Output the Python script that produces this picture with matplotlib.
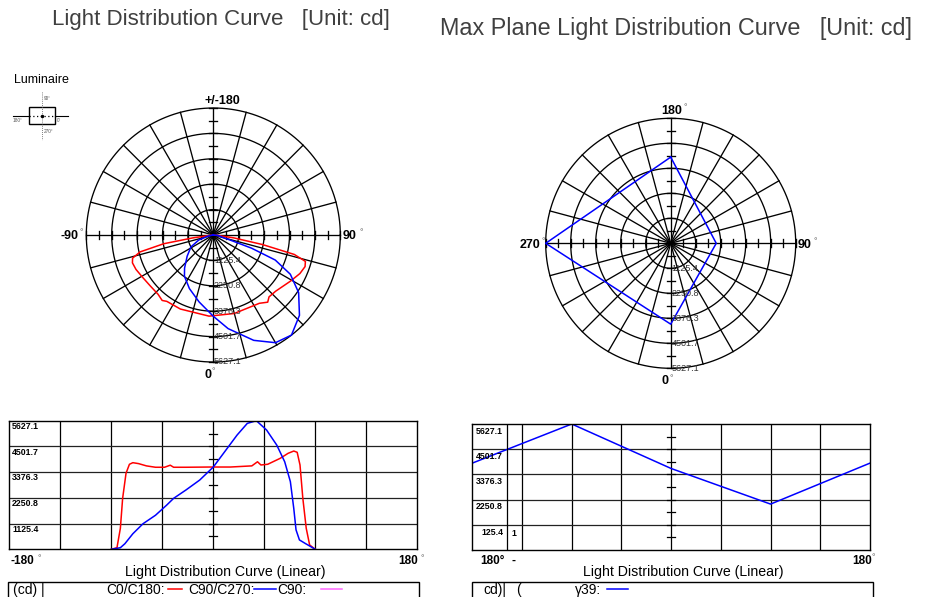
"""Luminaire photometric sheet: polar and linear light distribution curves."""

import matplotlib

matplotlib.use("Agg")
import matplotlib.pyplot as plt
import numpy as np
from matplotlib.patches import Rectangle

W, H = 930, 597
IMAX = 5627.1

# C0/C180 plane (red): gamma angle [deg] -> intensity [cd]
c0_angles = [-90, -85, -82, -80, -77, -74, -71, -66, -59, -51, -43, -38, -35,
             -24, -3, 15, 34, 39, 42, 48, 59, 66, 71, 74, 76.5, 79, 82, 85, 90]
c0_values = [0, 70, 920, 2230, 3330, 3720, 3790, 3750, 3650, 3590, 3590, 3680,
             3590, 3590, 3600, 3600, 3650, 3830, 3690, 3720, 3980, 4200, 4300,
             4245, 3690, 2230, 920, 190, 0]

# C90/C270 plane (blue)
c90_angles = [-90, -82, -78, -71, -62, -51, -41, -35, -24, -12, 0, 9, 21, 30,
              38, 47, 56, 63, 68, 71, 73, 76, 81, 85, 90]
c90_values = [0, 70, 245, 680, 1120, 1490, 1940, 2230, 2600, 3030, 3600, 4200,
              5000, 5510, 5627.1, 5220, 4560, 3830, 2960, 1790, 850, 410, 260,
              145, 0]

# max plane (gamma 39)
max_angles = [-180, -90, 0, 90, 180]
max_values = [3880, 5627.1, 3640, 2050, 3880]

ring_labels = ["1125.4", "2250.8", "3376.3", "4501.7", "5627.1"]
right_ylabels = ["5627.1", "4501.7", "3376.3", "2250.8", "125.4"]

RED = "#ff0000"
BLUE = "#0000ff"
TXT = "#333333"
CLW = 1.1
DEG = dict(fontsize=6.5, color="#666666", ha="left")
plt.rcParams["font.family"] = ["Liberation Sans", "DejaVu Sans"]


def px(x, y):
    return x / W, 1 - y / H


def ftext(fig, x, y, s, **kw):
    kw.setdefault("va", "center")
    fig.text(*px(x, y), s, **kw)


def polar_xy(angles, values):
    t = np.radians(angles)
    v = np.asarray(values, dtype=float)
    return v * np.sin(t), -v * np.cos(t)


def polar_axes(fig, cx, cy, rpx):
    half = 150
    ax = fig.add_axes([(cx - half) / W, 1 - (cy + half) / H, 2 * half / W, 2 * half / H])
    lim = half / rpx * IMAX
    ax.set_xlim(-lim, lim)
    ax.set_ylim(-lim, lim)
    ax.axis("off")
    step = IMAX / 5
    th = np.linspace(0, 2 * np.pi, 361)
    for k in range(1, 6):
        ax.plot(k * step * np.cos(th), k * step * np.sin(th), color="black", lw=0.95)
    for a in range(0, 180, 15):
        t = np.radians(a)
        ax.plot([-IMAX * np.sin(t), IMAX * np.sin(t)],
                [IMAX * np.cos(t), -IMAX * np.cos(t)], color="black", lw=0.95)
    tl = 4 / rpx * IMAX
    for k in range(1, 11):
        r = k * step / 2
        for s in (-1, 1):
            ax.plot([s * r, s * r], [-tl, tl], color="black", lw=0.95)
            ax.plot([-tl, tl], [s * r, s * r], color="black", lw=0.95)
    for k, lab in enumerate(ring_labels, start=1):
        ax.text(step * 0.03, -k * step, lab, fontsize=6.5, color=TXT,
                ha="left", va="center")
    return ax


def linear_axes(fig, x0, x1, y0, y1):
    ax = fig.add_axes([x0 / W, 1 - y1 / H, (x1 - x0) / W, (y1 - y0) / H])
    ax.set_xlim(-180, 180)
    ax.set_ylim(0, IMAX)
    ax.set_xticks([])
    ax.set_yticks([])
    for sp in ax.spines.values():
        sp.set_color("black")
        sp.set_linewidth(1.0)
    step = IMAX / 5
    for v in range(-135, 180, 45):
        ax.axvline(v, color="black", lw=0.9)
    for k in range(1, 5):
        ax.axhline(k * step, color="#222222", lw=0.9)
    tw = 4 / (x1 - x0) * 360
    for k in range(1, 10):
        ax.plot([-tw, tw], [k * step / 2] * 2, color="black", lw=0.9)
    return ax


fig = plt.figure(figsize=(W / 100, H / 100), dpi=100)

# titles
ftext(fig, 52, 20, "Light Distribution Curve   [Unit: cd]", fontsize=16, color="#404040")
ftext(fig, 440, 28, "Max Plane Light Distribution Curve   [Unit: cd]", fontsize=16.8,
      color="#404040")

# luminaire icon
ftext(fig, 14, 80, "Luminaire", fontsize=9, color="black")
ic = fig.add_axes([0, 1 - 145 / H, 80 / W, 60 / H])
ic.set_xlim(0, 80)
ic.set_ylim(145, 85)
ic.axis("off")
ic.add_patch(Rectangle((29.3, 107.3), 25.7, 16.7, fill=False, ec="black", lw=1))
ic.plot([13, 29.3], [115.7, 115.7], color="black", lw=0.8)
ic.plot([55, 68], [115.7, 115.7], color="black", lw=0.8)
ic.plot([29.3, 55], [115.7, 115.7], color="black", lw=0.9, ls=(0, (1, 2)))
ic.plot([42, 42], [92, 140], color="#555555", lw=0.6, ls=(0, (1, 1.5)))
ic.plot([42], [115.7], "o", color="black", ms=1.5)
for (x, y, s) in [(43.5, 99, "90°"), (13, 121, "180°"), (57, 120, "0°"),
                  (43.5, 131.5, "270°")]:
    ic.text(x, y, s, fontsize=3.4, color="#555555", ha="left", va="center")

# left polar
axp = polar_axes(fig, 213.3, 235, 127)
x, y = polar_xy(c0_angles, c0_values)
axp.plot(x, y, color=RED, lw=CLW)
x, y = polar_xy(c90_angles, c90_values)
axp.plot(x, y, color=BLUE, lw=CLW)
ftext(fig, 204, 101, "+/-180", fontsize=9, fontweight="bold", ha="left")
ftext(fig, 78, 236.5, "-90", fontsize=9, fontweight="bold", ha="right")
ftext(fig, 79.5, 233, "°", **DEG)
ftext(fig, 343, 236.5, "90", fontsize=9, fontweight="bold", ha="left")
ftext(fig, 359, 233, "°", **DEG)
ftext(fig, 204, 375, "0", fontsize=9, fontweight="bold", ha="left")
ftext(fig, 211.5, 372, "°", **DEG)

# right polar
axq = polar_axes(fig, 670.7, 243.3, 125)
x, y = polar_xy(max_angles, max_values)
axq.plot(x, y, color=BLUE, lw=CLW)
ftext(fig, 661.7, 110.5, "180", fontsize=9, fontweight="bold", ha="left")
ftext(fig, 683, 107.5, "°", **DEG)
ftext(fig, 540, 245, "270", fontsize=9, fontweight="bold", ha="right")
ftext(fig, 542, 242, "°", **DEG)
ftext(fig, 798, 245, "90", fontsize=9, fontweight="bold", ha="left")
ftext(fig, 813.5, 242, "°", **DEG)
ftext(fig, 661, 381.5, "0", fontsize=9, fontweight="bold", ha="left")
ftext(fig, 669, 378.5, "°", **DEG)

# left linear chart
axl = linear_axes(fig, 9.3, 417.3, 420.7, 549.3)
axl.plot(c0_angles, c0_values, color=RED, lw=CLW)
axl.plot(c90_angles, c90_values, color=BLUE, lw=CLW)
step = IMAX / 5
for k, lab in enumerate(ring_labels, start=1):
    axl.annotate(lab, xy=(0, k * step), xycoords=("axes fraction", "data"),
                 xytext=(2, -4.2), textcoords="offset points", fontsize=6.3,
                 fontweight="bold", ha="left", va="center")
ftext(fig, 10, 561.5, "-180", fontsize=8.5, fontweight="bold", ha="left")
ftext(fig, 37, 558.5, "°", **DEG)
ftext(fig, 398, 561.5, "180", fontsize=8.5, fontweight="bold", ha="left")
ftext(fig, 420, 558.5, "°", **DEG)
ftext(fig, 225, 572, "Light Distribution Curve (Linear)", fontsize=10.2, ha="center")

# right linear chart
axr = linear_axes(fig, 472.3, 870, 424, 550)
axr.plot(max_angles, max_values, color=BLUE, lw=CLW)
axr.axvline(-149, color="black", lw=0.9)
for k, lab in enumerate(right_ylabels):
    axr.annotate(lab, xy=(-149, (5 - k) * step), xycoords="data",
                 xytext=(-2.5, -5.2), textcoords="offset points", fontsize=6.3,
                 fontweight="bold", ha="right", va="center")
ftext(fig, 513.5, 533.5, "1", fontsize=6.3, fontweight="bold", ha="center")
ftext(fig, 480, 560.5, "180°", fontsize=8.5, fontweight="bold", ha="left")
ftext(fig, 513.5, 560.5, "-", fontsize=8.5, fontweight="bold", ha="center")
ftext(fig, 852, 560.5, "180", fontsize=8.5, fontweight="bold", ha="left")
ftext(fig, 871, 557.5, "°", **DEG)
ftext(fig, 683, 572, "Light Distribution Curve (Linear)", fontsize=10.2, ha="center")

# legend boxes
for (x0, x1) in [(8.3, 419.3), (472.3, 873.3)]:
    fig.add_artist(Rectangle(px(x0, 605), (x1 - x0) / W, 23.3 / H, fill=False,
                             ec="black", lw=1.0, transform=fig.transFigure))
LEG = dict(fontsize=10, ha="left")
ly = px(0, 589)[1]
ftext(fig, 13, 590, "(cd) |", **LEG)
ftext(fig, 106, 590, "C0/C180:", **LEG)
fig.add_artist(plt.Line2D([168 / W, 182 / W], [ly] * 2, color=RED, lw=CLW))
ftext(fig, 188, 590, "C90/C270:", **LEG)
fig.add_artist(plt.Line2D([254 / W, 276 / W], [ly] * 2, color=BLUE, lw=CLW))
ftext(fig, 277, 590, "C90:", **LEG)
fig.add_artist(plt.Line2D([321 / W, 342 / W], [ly] * 2, color="#ff66ff", lw=CLW))
ftext(fig, 483, 590, "cd)|", **LEG)
ftext(fig, 516, 590, "(", **LEG)
ftext(fig, 575, 590, "γ39:", **LEG)
fig.add_artist(plt.Line2D([607 / W, 628 / W], [ly] * 2, color=BLUE, lw=CLW))

fig.savefig("out.png", dpi=100)
plt.close(fig)
